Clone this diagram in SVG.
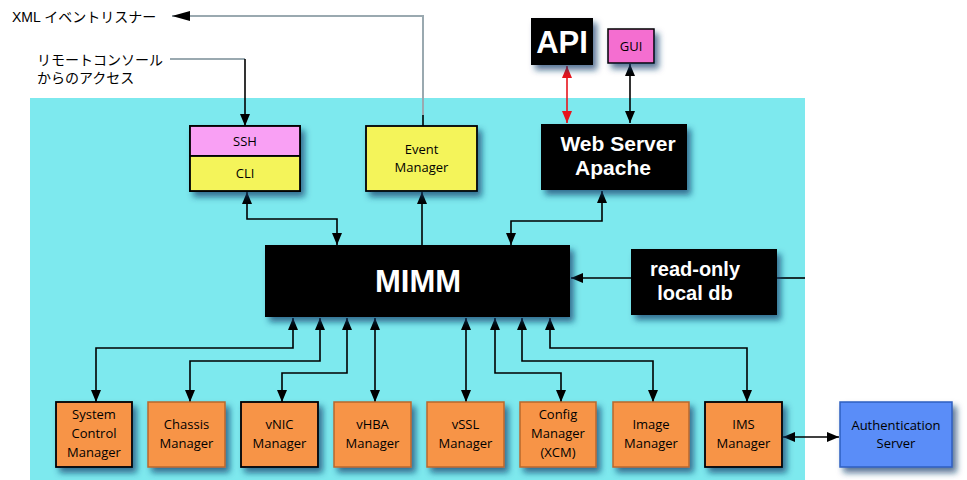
<svg xmlns="http://www.w3.org/2000/svg" width="967" height="480" viewBox="0 0 967 480">
<style>
.lbl{font-family:"Open Sans","Liberation Sans",sans-serif;font-size:13px;fill:#000;text-anchor:middle}
.wb{font-family:"Liberation Sans",Arial,sans-serif;font-weight:bold;fill:#fff;text-anchor:middle}
.jp{font-family:"Liberation Sans","Noto Sans CJK JP",sans-serif;font-size:14px;fill:#000}
.c{fill:none;stroke:#000;stroke-width:1.6}
.g{fill:none;stroke:#9aa9b0;stroke-width:2}
.org{fill:#f79447;stroke:#b8682c;stroke-width:1.5}
.orgk{fill:#f79447;stroke:#000;stroke-width:1.8}
.blk{fill:#000}
</style>
<defs>
<filter id="sh" x="-20%" y="-20%" width="150%" height="160%">
<feDropShadow dx="4" dy="5" stdDeviation="3" flood-color="#0a3a6a" flood-opacity="0.7"/>
</filter>
<marker id="ah" viewBox="0 0 12 10" refX="12" refY="5" markerWidth="12" markerHeight="10" markerUnits="userSpaceOnUse" orient="auto-start-reverse">
<path d="M0,0 L12,5 L0,10 z" fill="#000"/>
</marker>
<marker id="ahr" viewBox="0 0 12 10" refX="12" refY="5" markerWidth="12" markerHeight="10" markerUnits="userSpaceOnUse" orient="auto-start-reverse">
<path d="M0,0 L12,5 L0,10 z" fill="#e8141c"/>
</marker>
<marker id="ahx" viewBox="0 0 18 10" refX="18" refY="5" markerWidth="18" markerHeight="10" markerUnits="userSpaceOnUse" orient="auto">
<path d="M0,0 L18,5 L0,10 z" fill="#000"/>
</marker>
</defs>
<rect x="0" y="0" width="967" height="480" fill="#fff"/>
<rect x="30" y="98" width="775" height="382" fill="#7de9ee"/>

<g id="labels">
<text class="jp" x="12" y="22">XML イベントリスナー</text>
<text class="jp" x="37" y="65">リモートコンソール</text>
<text class="jp" x="37" y="83">からのアクセス</text>
</g>

<g id="connectors">
<polyline class="g" points="423,115 423,16 172,16" marker-end="url(#ahx)"/>
<line class="c" x1="423" y1="115" x2="423" y2="126"/>
<polyline class="g" points="170,59 245,59"/>
<line class="c" x1="245" y1="59" x2="245" y2="126" marker-end="url(#ah)"/>
<line x1="567" y1="66" x2="567" y2="123" stroke="#e8141c" stroke-width="1.6" marker-start="url(#ahr)" marker-end="url(#ahr)"/>
<line class="c" x1="630" y1="64" x2="630" y2="123" marker-start="url(#ah)" marker-end="url(#ah)"/>
<polyline class="c" points="247,192 247,219 337,219 337,245" marker-start="url(#ah)" marker-end="url(#ah)"/>
<line class="c" x1="422" y1="245" x2="422" y2="192" marker-end="url(#ah)"/>
<polyline class="c" points="602,191 602,221 511,221 511,245" marker-start="url(#ah)" marker-end="url(#ah)"/>
<line class="c" x1="631" y1="278" x2="571" y2="278" marker-end="url(#ah)"/>
<line class="c" x1="777" y1="278" x2="805" y2="278"/>
<polyline class="c" points="293,318 293,348 96,348 96,402" marker-start="url(#ah)" marker-end="url(#ah)"/>
<polyline class="c" points="320,318 320,361 190,361 190,402" marker-start="url(#ah)" marker-end="url(#ah)"/>
<polyline class="c" points="347,318 347,373 282,373 282,402" marker-start="url(#ah)" marker-end="url(#ah)"/>
<line class="c" x1="375" y1="318" x2="375" y2="402" marker-start="url(#ah)" marker-end="url(#ah)"/>
<line class="c" x1="466" y1="318" x2="466" y2="402" marker-start="url(#ah)" marker-end="url(#ah)"/>
<polyline class="c" points="495,318 495,373 561,373 561,402" marker-start="url(#ah)" marker-end="url(#ah)"/>
<polyline class="c" points="522,318 522,361 653,361 653,402" marker-start="url(#ah)" marker-end="url(#ah)"/>
<polyline class="c" points="550,318 550,348 747,348 747,402" marker-start="url(#ah)" marker-end="url(#ah)"/>
<line class="c" x1="783" y1="437" x2="839" y2="437" marker-start="url(#ah)" marker-end="url(#ah)"/>
</g>

<g id="sshcli">
<rect x="190" y="126" width="110" height="65" fill="#f4f45a" stroke="#000" stroke-width="1.8" filter="url(#sh)"/>
<rect x="190" y="126" width="110" height="30" fill="#f9a0f4" stroke="#000" stroke-width="1.8"/>
<rect x="190" y="156" width="110" height="35" fill="#f4f45a" stroke="#000" stroke-width="1.8"/>
<text class="lbl" x="245" y="146">SSH</text>
<text class="lbl" x="245" y="178">CLI</text>
</g>
<g id="event">
<rect x="366" y="126" width="111" height="65" fill="#f4f45a" stroke="#000" stroke-width="1.8" filter="url(#sh)"/>
<text class="lbl" x="421.5" y="154">Event</text>
<text class="lbl" x="421.5" y="172">Manager</text>
</g>
<g id="web">
<rect x="541" y="124" width="146" height="66" class="blk" filter="url(#sh)"/>
<text class="wb" x="618" y="151" font-size="21">Web Server</text>
<text class="wb" x="613" y="175" font-size="21">Apache</text>
</g>
<g id="api">
<rect x="531" y="18" width="62" height="47" class="blk" filter="url(#sh)"/>
<text class="wb" x="562" y="53" font-size="31">API</text>
</g>
<g id="gui">
<rect x="608" y="29" width="46" height="34" fill="#f46ed0" stroke="#000" stroke-width="1.5" filter="url(#sh)"/>
<text class="lbl" x="631" y="51" font-size="12">GUI</text>
</g>
<g id="mimm">
<rect x="265" y="245" width="305" height="72" class="blk" filter="url(#sh)"/>
<text class="wb" x="418" y="292" font-size="31">MIMM</text>
</g>
<g id="localdb">
<rect x="631" y="249" width="146" height="66" class="blk" filter="url(#sh)"/>
<text class="wb" x="695" y="276" font-size="20">read-only</text>
<text class="wb" x="695" y="300" font-size="20">local db</text>
</g>

<g id="scm">
<rect x="56" y="402" width="76" height="65" class="orgk" filter="url(#sh)"/>
<text class="lbl" x="94" y="419">System</text>
<text class="lbl" x="94" y="438">Control</text>
<text class="lbl" x="94" y="457">Manager</text>
</g>
<g id="chassis">
<rect x="148" y="402" width="77" height="65" class="org" filter="url(#sh)"/>
<text class="lbl" x="186.5" y="429">Chassis</text>
<text class="lbl" x="186.5" y="448">Manager</text>
</g>
<g id="vnic">
<rect x="241" y="402" width="77" height="65" class="orgk" filter="url(#sh)"/>
<text class="lbl" x="279.5" y="429">vNIC</text>
<text class="lbl" x="279.5" y="448">Manager</text>
</g>
<g id="vhba">
<rect x="334" y="402" width="77" height="65" class="org" filter="url(#sh)"/>
<text class="lbl" x="372.5" y="429">vHBA</text>
<text class="lbl" x="372.5" y="448">Manager</text>
</g>
<g id="vssl">
<rect x="427" y="402" width="77" height="65" class="org" filter="url(#sh)"/>
<text class="lbl" x="465.5" y="429">vSSL</text>
<text class="lbl" x="465.5" y="448">Manager</text>
</g>
<g id="config">
<rect x="520" y="402" width="76" height="65" class="org" filter="url(#sh)"/>
<text class="lbl" x="558" y="419">Config</text>
<text class="lbl" x="558" y="438">Manager</text>
<text class="lbl" x="558" y="457">(XCM)</text>
</g>
<g id="image">
<rect x="613" y="402" width="76" height="65" class="org" filter="url(#sh)"/>
<text class="lbl" x="651" y="429">Image</text>
<text class="lbl" x="651" y="448">Manager</text>
</g>
<g id="ims">
<rect x="705" y="402" width="77" height="65" class="orgk" filter="url(#sh)"/>
<text class="lbl" x="743.5" y="429">IMS</text>
<text class="lbl" x="743.5" y="448">Manager</text>
</g>
<g id="auth">
<rect x="840" y="402" width="112" height="65" fill="#5a8df8" stroke="#2f5fc0" stroke-width="1.5" filter="url(#sh)"/>
<text class="lbl" x="896" y="430">Authentication</text>
<text class="lbl" x="896" y="448">Server</text>
</g>
</svg>
